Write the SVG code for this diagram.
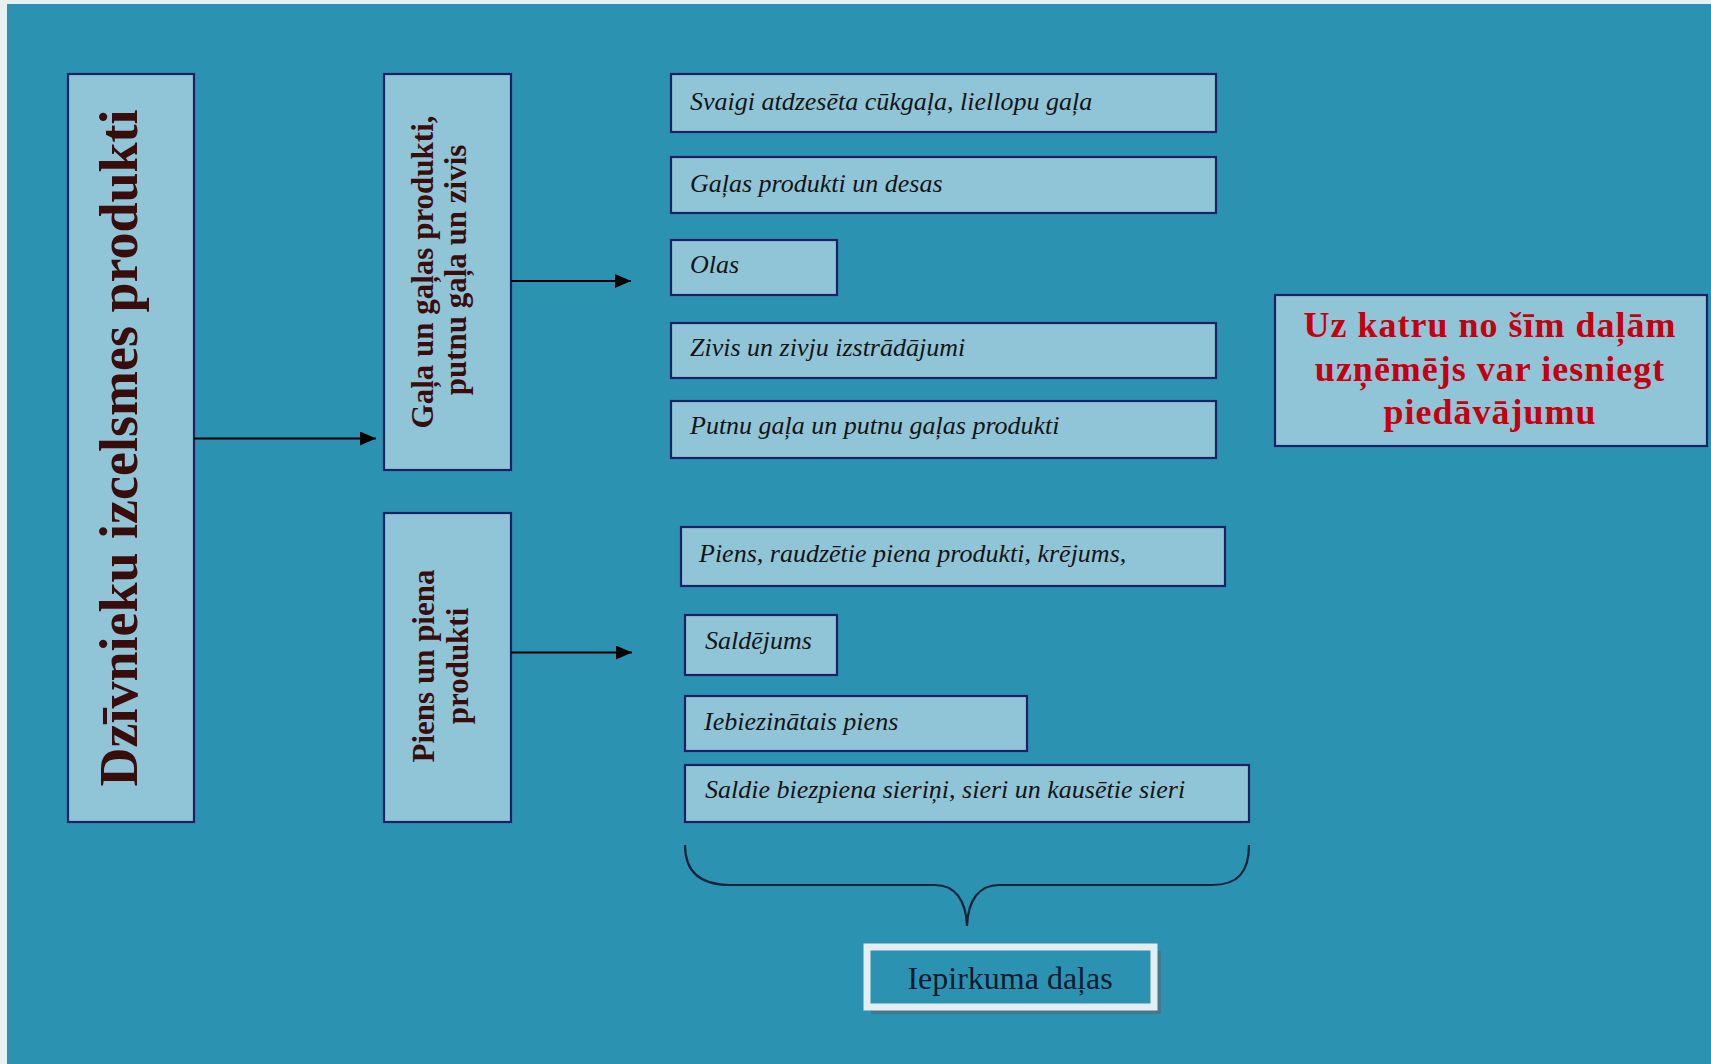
<svg xmlns="http://www.w3.org/2000/svg" width="1711" height="1064" viewBox="0 0 1711 1064">
<defs>
<style>
.box{fill:#90c5d8;stroke:#1e1f64;stroke-width:2.2}
.it{font-family:"Liberation Serif","Times New Roman",serif;font-style:italic;font-size:26px;fill:#141414}
.vb{font-family:"Liberation Serif","Times New Roman",serif;font-weight:bold;fill:#3a0d0d;text-anchor:middle}
.red{font-family:"Liberation Serif","Times New Roman",serif;font-weight:bold;font-size:36px;fill:#c4000f;text-anchor:middle;letter-spacing:1px}
.conn{stroke:#000;stroke-width:2;fill:none}
</style>
<marker id="ah" viewBox="0 0 16 14" refX="16" refY="7" markerWidth="16" markerHeight="14" markerUnits="userSpaceOnUse" orient="auto">
<path d="M0,0 L16,7 L0,14 Z" fill="#000"/>
</marker>
</defs>
<rect x="0" y="0" width="1711" height="1064" fill="#e6f0f2"/>
<rect x="7" y="4" width="1704" height="1060" fill="#2b93b1"/>

<g id="main">
<rect class="box" x="68" y="74" width="126" height="748"/>
<text class="vb" font-size="54" transform="translate(137 448) rotate(-90)" x="0" y="0">Dzīvnieku izcelsmes produkti</text>
</g>

<g id="gala">
<rect class="box" x="384" y="74" width="127" height="396"/>
<text class="vb" font-size="31" fill="#2a0a0a" transform="translate(433 272) rotate(-90)" x="0" y="0">Gaļa un gaļas produkti,</text>
<text class="vb" font-size="31" fill="#2a0a0a" transform="translate(466 270) rotate(-90)" x="0" y="0">putnu gaļa un zivis</text>
</g>

<g id="piens">
<rect class="box" x="384" y="513" width="127" height="309"/>
<text class="vb" font-size="31" fill="#2a0a0a" transform="translate(434 666) rotate(-90)" x="0" y="0">Piens un piena</text>
<text class="vb" font-size="31" fill="#2a0a0a" transform="translate(468 666) rotate(-90)" x="0" y="0">produkti</text>
</g>

<g id="m1"><rect class="box" x="671" y="74" width="545" height="58"/><text class="it" x="690" y="110">Svaigi atdzesēta cūkgaļa, liellopu gaļa</text></g>
<g id="m2"><rect class="box" x="671" y="157" width="545" height="56"/><text class="it" x="690" y="192">Gaļas produkti un desas</text></g>
<g id="m3"><rect class="box" x="671" y="240" width="166" height="55"/><text class="it" x="690" y="273">Olas</text></g>
<g id="m4"><rect class="box" x="671" y="323" width="545" height="55"/><text class="it" x="690" y="356">Zivis un zivju izstrādājumi</text></g>
<g id="m5"><rect class="box" x="671" y="401" width="545" height="57"/><text class="it" x="690" y="434">Putnu gaļa un putnu gaļas produkti</text></g>

<g id="d1"><rect class="box" x="681" y="527" width="544" height="59"/><text class="it" x="699" y="562">Piens, raudzētie piena produkti, krējums,</text></g>
<g id="d2"><rect class="box" x="685" y="615" width="152" height="60"/><text class="it" x="705" y="649">Saldējums</text></g>
<g id="d3"><rect class="box" x="685" y="696" width="342" height="55"/><text class="it" x="704" y="730">Iebiezinātais piens</text></g>
<g id="d4"><rect class="box" x="685" y="765" width="564" height="57"/><text class="it" x="705" y="798">Saldie biezpiena sieriņi, sieri un kausētie sieri</text></g>

<g id="note">
<rect class="box" x="1275" y="295" width="432" height="151"/>
<text class="red" x="1490" y="337">Uz katru no šīm daļām</text>
<text class="red" x="1490" y="381">uzņēmējs var iesniegt</text>
<text class="red" x="1490" y="424">piedāvājumu</text>
</g>

<g id="brace">
<path d="M685 845 C685 872 700 885 730 885 L935 885 C955 885 966 900 967 926 C968 900 979 885 999 885 L1212 885 C1238 885 1249 872 1249 845" fill="none" stroke="#15233a" stroke-width="2.2"/>
</g>

<g id="label">
<rect x="871" y="951" width="290" height="63" fill="#4d6f7c" opacity="0.7"/>
<rect x="867" y="947" width="287" height="60" fill="#2b93b1" stroke="#e4eef2" stroke-width="7"/>
<text x="1010" y="989" text-anchor="middle" font-family="'Liberation Serif','Times New Roman',serif" font-size="32" fill="#0c1a2e">Iepirkuma daļas</text>
</g>

<g id="connectors">
<line class="conn" x1="194" y1="438.5" x2="376" y2="438.5" marker-end="url(#ah)"/>
<line class="conn" x1="511" y1="281" x2="631" y2="281" marker-end="url(#ah)"/>
<line class="conn" x1="511" y1="652.5" x2="632" y2="652.5" marker-end="url(#ah)"/>
</g>
</svg>
